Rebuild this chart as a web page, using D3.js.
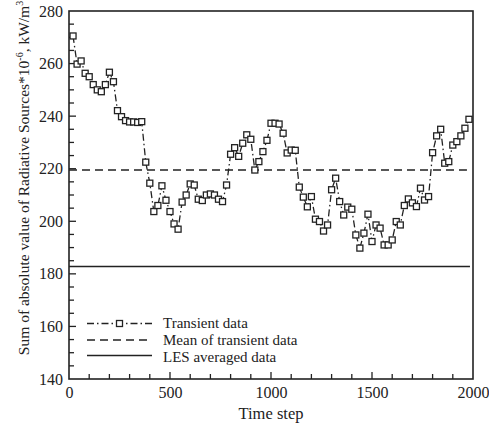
<!DOCTYPE html>
<html><head><meta charset="utf-8">
<script src="https://cdn.jsdelivr.net/npm/d3@7"></script>
<style>body{margin:0;background:#fff}svg{display:block}text{font-family:"Liberation Serif","Times New Roman",serif;fill:#222}</style>
</head><body><svg id="c" width="489" height="426"></svg>
<script>
const steps = [20,40,60,80,100,120,140,160,180,200,220,240,260,280,300,320,340,360,380,400,
420,440,460,480,500,520,540,560,580,600,620,640,660,680,700,720,740,760,780,800,
820,840,860,880,900,920,940,960,980,1000,1020,1040,1060,1080,1100,1120,1140,1160,1180,1200,
1220,1240,1260,1280,1300,1320,1340,1360,1380,1400,1420,1440,1460,1480,1500,1520,1540,1560,1580,1600,
1620,1640,1660,1680,1700,1720,1740,1760,1780,1800,1820,1840,1860,1880,1900,1920,1940,1960,1980];
const transient = [270.5,259.8,261,256.3,255,252,250,249.3,252,256.7,253.1,242.1,239.8,238.3,237.8,237.8,237.6,237.9,222.5,214.5,
203.7,206,213.5,208,203.7,199,197,207.3,210,214.2,213.8,208.4,207.9,210,210.4,210,208.4,207.5,213.8,225.5,
228,224.7,229.7,232.9,231.2,219.5,222.7,226.5,230.8,237.3,237.3,237,233.5,226,227.1,227,213,209.2,205.5,209.4,
200.8,199.9,196.3,198.6,212,216.4,207.5,202.4,205.4,204.6,194.8,189.8,195.5,202.7,192.3,198.6,197.4,191,191,192.9,
199.9,198.6,206,208.5,207,205.6,212.6,208.1,209.4,226.1,232.5,235,222.1,222.7,229,230.3,232.5,235.4,238.8];
const meanValue = 219.5;
const lesValue = 182.8;
const xTicks = [0,500,1000,1500,2000];
const yTicks = [140,160,180,200,220,240,260,280];
const legendLabels = ["Transient data","Mean of transient data","LES averaged data"];

const svg = d3.select("#c");
const L=69, R=473, T=11, B=379;
const x = d3.scaleLinear().domain([0,2000]).range([L,R]);
const y = d3.scaleLinear().domain([140,280]).range([B,T]);
const ink="#222";

// minor ticks
const g = svg.append("g");
g.selectAll(".mx").data(d3.range(100,2000,100)).join("line")
 .attr("x1",d=>x(d)).attr("x2",d=>x(d)).attr("y1",B).attr("y2",d=>B-(d%500===0?7:5))
 .attr("stroke",ink).attr("stroke-width",1.3);
g.selectAll(".my").data(d3.range(145,280,5)).join("line")
 .attr("y1",d=>y(d)).attr("y2",d=>y(d)).attr("x1",L).attr("x2",d=>L+(d%20===0?7:5))
 .attr("stroke",ink).attr("stroke-width",1.3);

// frame
svg.append("rect").attr("x",L).attr("y",T).attr("width",R-L).attr("height",B-T)
 .attr("fill","none").attr("stroke",ink).attr("stroke-width",1.6);

// tick labels
const xa = svg.append("g").attr("transform",`translate(0,${B})`)
 .call(d3.axisBottom(x).tickValues(xTicks).tickSize(0).tickPadding(5).tickFormat(d3.format("d")));
xa.select(".domain").remove();
xa.selectAll("text").attr("font-size",16).attr("font-family","Liberation Serif").attr("fill",ink).attr("dy","0.9em");
const ya = svg.append("g").attr("transform",`translate(${L},0)`)
 .call(d3.axisLeft(y).tickValues(yTicks).tickSize(0).tickPadding(6).tickFormat(d3.format("d")));
ya.select(".domain").remove();
ya.selectAll("text").attr("font-size",16).attr("font-family","Liberation Serif").attr("fill",ink);

// reference lines
svg.append("line").attr("x1",L).attr("x2",x(1970)).attr("y1",y(meanValue)).attr("y2",y(meanValue))
 .attr("stroke",ink).attr("stroke-width",1.6).attr("stroke-dasharray","8,5");
svg.append("line").attr("x1",L).attr("x2",x(1985)).attr("y1",y(lesValue)).attr("y2",y(lesValue))
 .attr("stroke",ink).attr("stroke-width",1.6);

// transient series
const pts = steps.map((s,i)=>[s,transient[i]]);
svg.append("path").datum(pts).attr("fill","none").attr("stroke",ink).attr("stroke-width",1.3)
 .attr("stroke-dasharray","7,3,1.5,3")
 .attr("d",d3.line().x(d=>x(d[0])).y(d=>y(d[1])));
svg.selectAll(".pt").data(pts).join("rect")
 .attr("x",d=>x(d[0])-3).attr("y",d=>y(d[1])-3).attr("width",6).attr("height",6)
 .attr("fill","#fff").attr("stroke",ink).attr("stroke-width",1.3);

// legend
const lg = svg.append("g");
const ly=[323.5,340,355.5], lty=[328,345,362];
lg.append("line").attr("x1",87).attr("x2",152).attr("y1",ly[0]).attr("y2",ly[0])
 .attr("stroke",ink).attr("stroke-width",1.3).attr("stroke-dasharray","7,3,1.5,3");
lg.append("rect").attr("x",116.5).attr("y",ly[0]-3).attr("width",6).attr("height",6)
 .attr("fill","#fff").attr("stroke",ink).attr("stroke-width",1.3);
lg.append("line").attr("x1",87).attr("x2",152).attr("y1",ly[1]).attr("y2",ly[1])
 .attr("stroke",ink).attr("stroke-width",1.6).attr("stroke-dasharray","8,5");
lg.append("line").attr("x1",87).attr("x2",152).attr("y1",ly[2]).attr("y2",ly[2])
 .attr("stroke",ink).attr("stroke-width",1.6);
lg.selectAll("text").data(legendLabels).join("text")
 .attr("x",163).attr("y",(d,i)=>lty[i]).attr("font-size",15).text(d=>d);

// axis titles
svg.append("text").attr("x",(L+R)/2).attr("y",419).attr("text-anchor","middle").attr("font-size",16.5).text("Time step");
const yt = svg.append("text").attr("transform","translate(29,178) rotate(-90)")
 .attr("text-anchor","middle").attr("font-size",15.5);
yt.append("tspan").text("Sum of absolute value of Radiative Sources*10");
yt.append("tspan").attr("font-size",10).attr("dy",-6).text("-6");
yt.append("tspan").attr("dy",6).text(", kW/m");
yt.append("tspan").attr("font-size",10).attr("dy",-6).text("3");
</script></body></html>
